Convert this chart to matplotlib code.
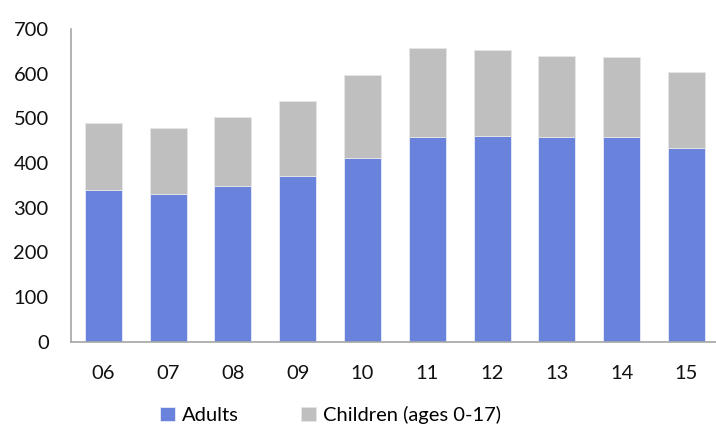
import matplotlib
matplotlib.use("Agg")
import matplotlib.pyplot as plt
import numpy as np

# valeurs
years = ["06", "07", "08", "09", "10", "11", "12", "13", "14", "15"]
adults = [340, 331, 349, 371, 412, 459, 461, 458, 459, 434]
children = [149, 147, 153, 167, 186, 198, 191, 181, 179, 170]

BLUE = "#6983dc"
GREY = "#bfbfbf"

plt.rcParams["font.family"] = ["Lato", "DejaVu Sans"]

fig = plt.figure(figsize=(7.16, 4.26), dpi=100)
ax = fig.add_axes([0.099, 0.198, 0.905, 0.734])

x = np.arange(len(years))
ax.bar(x, adults, width=0.57, color=BLUE, edgecolor="#e8ecf8", linewidth=0.6,
       label="Adults")
ax.bar(x, children, width=0.57, bottom=adults, color=GREY, edgecolor="#e6e6e6",
       linewidth=0.6, label="Children (ages 0-17)")

ax.set_xlim(-0.5, len(years) - 0.5)
ax.set_ylim(0, 700)
ax.set_yticks(range(0, 701, 100))
ax.set_xticks(x)
ax.set_xticklabels(years)
ax.tick_params(axis="both", length=0, labelsize=14.5, colors="#111111")
ax.tick_params(axis="y", pad=16)
ax.tick_params(axis="x", pad=17)

for side in ["top", "right"]:
    ax.spines[side].set_visible(False)
for side in ["left", "bottom"]:
    ax.spines[side].set_color("#a6a6a6")
    ax.spines[side].set_linewidth(1.2)

fig.legend(loc="center left", bbox_to_anchor=(0.223, 1 - 415 / 426), ncol=2,
           frameon=False, fontsize=14.5, handlelength=0.75, handleheight=0.75,
           handletextpad=0.35, columnspacing=3.1, borderaxespad=0, borderpad=0)

fig.savefig("out.png", dpi=100)
plt.close(fig)
